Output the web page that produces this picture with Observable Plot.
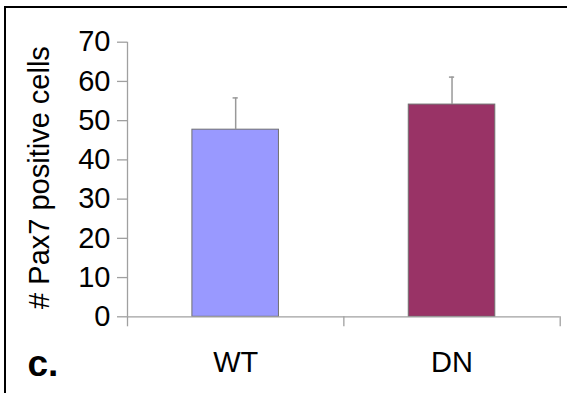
<!DOCTYPE html>
<html>
<head>
<meta charset="utf-8">
<script src="https://cdn.jsdelivr.net/npm/d3@7"></script>
<script src="https://cdn.jsdelivr.net/npm/@observablehq/plot@0.6"></script>
<style>
  html, body { margin: 0; padding: 0; background: #fff; }
  #wrap { position: relative; width: 567px; height: 393px; overflow: hidden; }
  #wrap svg { position: absolute; left: 0; top: 0; }
  #frame { position: absolute; left: 4px; top: 6px; right: 0; bottom: 0;
           border-top: 2px solid #000; border-left: 2px solid #000; pointer-events: none; }
</style>
</head>
<body>
<div id="wrap"><div id="frame"></div></div>
<script>
const categories = ["WT", "DN"];
const means = [47.7, 54.1];
const errors = [8.1, 7.0];
const colors = ["#9999ff", "#993366"];
const yTicks = [0, 10, 20, 30, 40, 50, 60, 70];
const yLabel = "# Pax7 positive cells";
const panelLabel = "c.";

const data = categories.map((c, i) => ({ c, i, mean: means[i], err: errors[i], color: colors[i] }));
const axisGray = "#a0a0a0";
const font = "'Liberation Sans', Arial, sans-serif";

const chart = Plot.plot({
  width: 567,
  height: 393,
  marginLeft: 127,
  marginRight: 7.3,
  marginTop: 41.7,
  marginBottom: 76.7,
  style: { fontFamily: font, background: "transparent", overflow: "visible" },
  x: { type: "linear", domain: [0, 2], axis: null },
  y: { domain: [0, 70], axis: null },
  color: { type: "identity" },
  marks: [
    Plot.rectY(data, { x1: d => d.i + 0.3, x2: d => d.i + 0.7, y1: 0, y2: "mean", fill: "color", stroke: "#707070", strokeWidth: 1 }),
    Plot.ruleX(data, { x: d => d.i + 0.5, y1: "mean", y2: d => d.mean + d.err, stroke: "#999", strokeWidth: 1.5 }),
    Plot.ruleY(data, { y: d => d.mean + d.err, x1: d => d.i + 0.488, x2: d => d.i + 0.512, stroke: "#999", strokeWidth: 1.5 }),
    Plot.ruleX([0], { y1: 0, y2: 70, stroke: axisGray, strokeWidth: 1.3 }),
    Plot.ruleY([0], { stroke: axisGray, strokeWidth: 1.3 }),
    Plot.axisY({ ticks: yTicks, tickSize: 10, tickPadding: 7, stroke: axisGray, strokeWidth: 1.3, fill: "black", fontSize: 29, label: null, tickFormat: d => String(d) }),
    Plot.axisX({ ticks: [0, 1, 2], tickSize: 10, tickFormat: () => "", stroke: axisGray, strokeWidth: 1.3, label: null }),
    Plot.text(data, { x: d => d.i + 0.5, y: 0, text: "c", dy: 46, fontSize: 29, fill: "black" }),
    Plot.text([yLabel], { text: d => d, frameAnchor: "left", textAnchor: "middle", lineAnchor: "middle", rotate: -90, dx: -88, dy: -2, fontSize: 29, fill: "black" }),
    Plot.text([panelLabel], { text: d => d, frameAnchor: "bottom-left", textAnchor: "start", lineAnchor: "middle", dx: -100, dy: 47, fontSize: 37, fontWeight: "bold", fill: "black" })
  ]
});
document.getElementById("wrap").insertBefore(chart, document.getElementById("frame"));
</script>
</body>
</html>
